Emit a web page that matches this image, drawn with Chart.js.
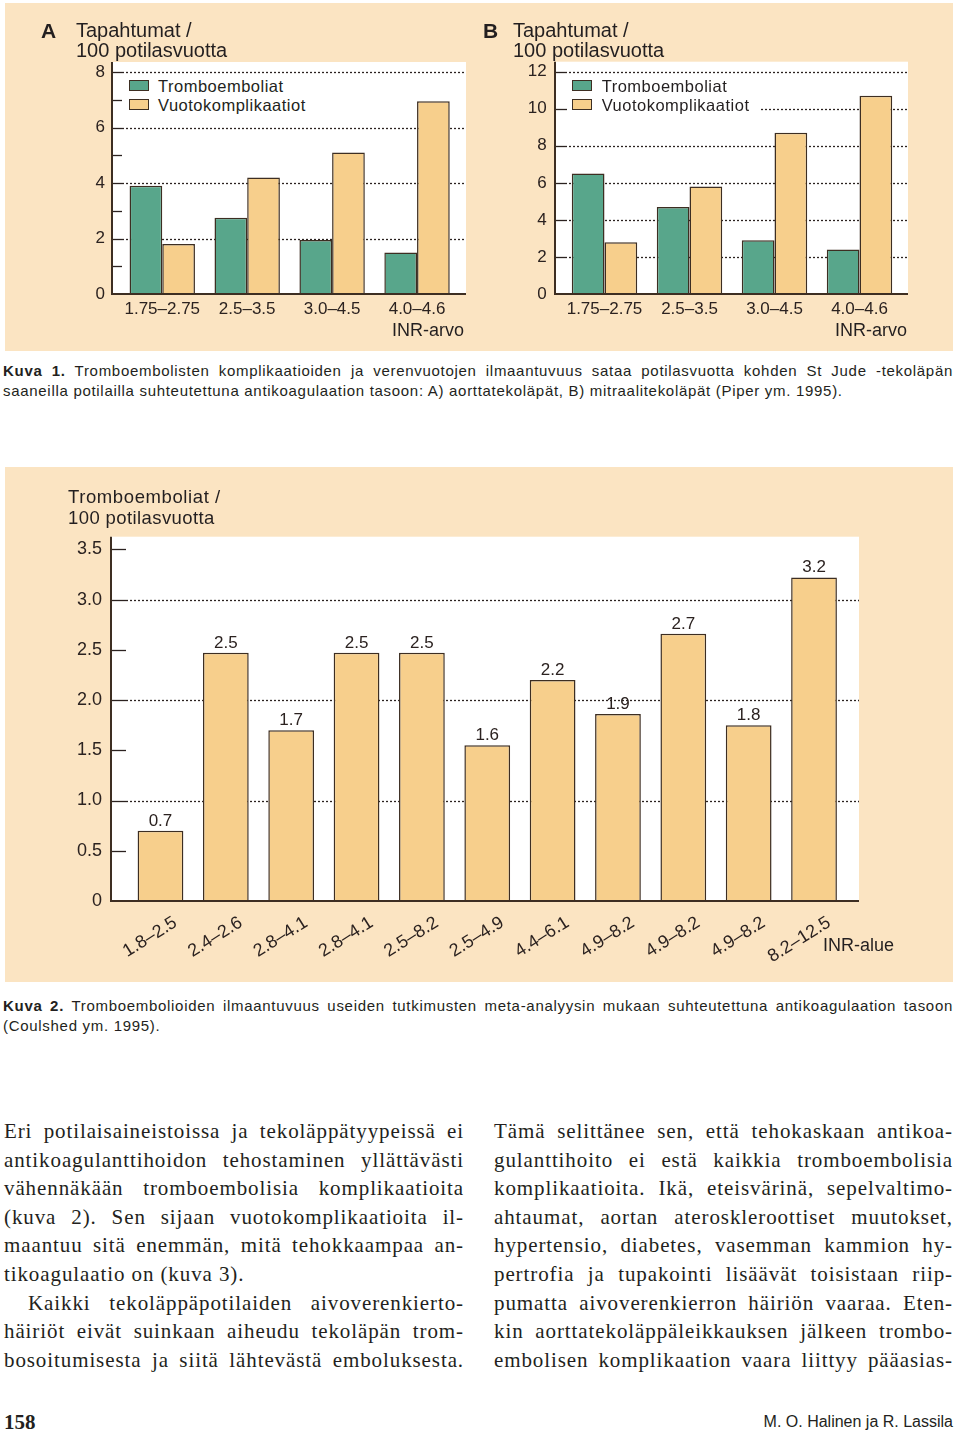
<!DOCTYPE html>
<html lang="fi">
<head>
<meta charset="utf-8">
<script src="https://cdn.jsdelivr.net/npm/chart.js@4.4.1/dist/chart.umd.min.js"></script>
<style>
  html, body { margin: 0; padding: 0; background: #fff; }
  body { width: 960px; height: 1435px; position: relative; overflow: hidden; color: #231f20;
         font-family: "Liberation Sans", Arial, sans-serif; }
  .box { position: absolute; background: #fbe4c2; }
  canvas { position: absolute; }
  .t { position: absolute; white-space: nowrap; line-height: 1; transform: translateY(-50%); }
  .legend { position: absolute; background: #fff; height: 38px; }
  .sw { position: absolute; width: 18px; height: 9px; border: 1.4px solid #3d2e22; }
  .lt { position: absolute; font-size: 16.5px; letter-spacing: 0.5px; line-height: 1; transform: translateY(-50%); white-space: nowrap; }
  .cap { position: absolute; left: 3px; width: 950px; font-size: 15px; line-height: 20px; letter-spacing: 0.7px; }
  .cap .j { text-align: justify; text-align-last: justify; }
  .col { position: absolute; top: 1117px; font-family: "Liberation Serif", "Times New Roman", serif;
         font-size: 21px; line-height: 28.6px; letter-spacing: 0.9px; }
  .col div { text-align: justify; text-align-last: justify; }
  .col div.end { text-align-last: left; }
</style>
</head>
<body>

<div class="box" style="left:5px;top:3px;width:948px;height:348px"></div>
<div class="box" style="left:5px;top:467px;width:948px;height:515px"></div>

<canvas id="chartA" width="475" height="348" style="left:5px;top:3px"></canvas>
<canvas id="chartB" width="473" height="348" style="left:480px;top:3px"></canvas>
<canvas id="chartC" width="948" height="515" style="left:5px;top:467px"></canvas>

<!-- panel A texts -->
<div class="t" style="left:41px;top:30px;font-size:21px;font-weight:bold">A</div>
<div class="t" style="left:76px;top:29.5px;font-size:20px">Tapahtumat /</div>
<div class="t" style="left:76px;top:50px;font-size:20px">100 potilasvuotta</div>
<div class="t" style="right:496px;top:330px;font-size:18px">INR-arvo</div>
<div class="legend" style="left:124px;top:76px;width:196px">
  <span class="sw" style="left:5px;top:4px;background:#58a68b"></span>
  <span class="lt" style="left:34px;top:9.5px">Tromboemboliat</span>
  <span class="sw" style="left:5px;top:23px;background:#f7cf8c"></span>
  <span class="lt" style="left:34px;top:28.5px">Vuotokomplikaatiot</span>
</div>

<!-- panel B texts -->
<div class="t" style="left:483px;top:30px;font-size:21px;font-weight:bold">B</div>
<div class="t" style="left:513px;top:29.5px;font-size:20px">Tapahtumat /</div>
<div class="t" style="left:513px;top:50px;font-size:20px">100 potilasvuotta</div>
<div class="t" style="right:53px;top:330px;font-size:18px">INR-arvo</div>
<div class="legend" style="left:567px;top:76px;width:194px">
  <span class="sw" style="left:4.7px;top:4px;background:#58a68b"></span>
  <span class="lt" style="left:34.7px;top:9.5px">Tromboemboliat</span>
  <span class="sw" style="left:4.7px;top:23px;background:#f7cf8c"></span>
  <span class="lt" style="left:34.7px;top:28.5px">Vuotokomplikaatiot</span>
</div>

<!-- Kuva 2 texts -->
<div class="t" style="left:68px;top:497px;font-size:18.5px;letter-spacing:0.6px">Tromboemboliat /</div>
<div class="t" style="left:68px;top:518px;font-size:18.5px;letter-spacing:0.4px">100 potilasvuotta</div>
<div class="t" style="left:823px;top:945px;font-size:18px">INR-alue</div>

<div class="cap" style="top:361px">
  <div class="j"><b>Kuva 1.</b> Tromboembolisten komplikaatioiden ja verenvuotojen ilmaantuvuus sataa potilasvuotta kohden St Jude -tekoläpän</div>
  <div>saaneilla potilailla suhteutettuna antikoagulaation tasoon: A) aorttatekoläpät, B) mitraalitekoläpät (Piper ym. 1995).</div>
</div>
<div class="cap" style="top:996px">
  <div class="j"><b>Kuva 2.</b> Tromboembolioiden ilmaantuvuus useiden tutkimusten meta-analyysin mukaan suhteutettuna antikoagulaation tasoon</div>
  <div>(Coulshed ym. 1995).</div>
</div>

<div class="col" style="left:4px;width:460px">
  <div>Eri potilaisaineistoissa ja tekoläppätyypeissä ei</div>
  <div>antikoagulanttihoidon tehostaminen yllättävästi</div>
  <div>vähennäkään tromboembolisia komplikaatioita</div>
  <div>(kuva 2). Sen sijaan vuotokomplikaatioita il-</div>
  <div>maantuu sitä enemmän, mitä tehokkaampaa an-</div>
  <div class="end">tikoagulaatio on (kuva 3).</div>
  <div style="text-indent:24px">Kaikki tekoläppäpotilaiden aivoverenkierto-</div>
  <div>häiriöt eivät suinkaan aiheudu tekoläpän trom-</div>
  <div>bosoitumisesta ja siitä lähtevästä emboluksesta.</div>
</div>
<div class="col" style="left:494px;width:459px">
  <div>Tämä selittänee sen, että tehokaskaan antikoa-</div>
  <div>gulanttihoito ei estä kaikkia tromboembolisia</div>
  <div>komplikaatioita. Ikä, eteisvärinä, sepelvaltimo-</div>
  <div>ahtaumat, aortan ateroskleroottiset muutokset,</div>
  <div>hypertensio, diabetes, vasemman kammion hy-</div>
  <div>pertrofia ja tupakointi lisäävät toisistaan riip-</div>
  <div>pumatta aivoverenkierron häiriön vaaraa. Eten-</div>
  <div>kin aorttatekoläppäleikkauksen jälkeen trombo-</div>
  <div>embolisen komplikaation vaara liittyy pääasias-</div>
</div>

<div class="t" style="left:4px;top:1422px;font-size:21px;font-weight:bold;font-family:'Liberation Serif',serif">158</div>
<div class="t" style="right:7px;top:1422px;font-size:16px">M. O. Halinen ja R. Lassila</div>

<script>
// Kuva 1: events per 100 patient-years by INR range
const groups = ['1.75–2.75', '2.5–3.5', '3.0–4.5', '4.0–4.6'];
const tromboA = [3.9, 2.75, 1.95, 1.5];
const vuotoA = [1.8, 4.2, 5.1, 6.95];
const tromboB = [6.5, 4.7, 2.9, 2.4];
const vuotoB = [2.8, 5.8, 8.7, 10.7];

// Kuva 2: thromboembolism per 100 patient-years (meta-analysis)
const inrRanges = ['1.8–2.5', '2.4–2.6', '2.8–4.1', '2.8–4.1', '2.5–8.2', '2.5–4.9',
                   '4.4–6.1', '4.9–8.2', '4.9–8.2', '4.9–8.2', '8.2–12.5'];
const tromboRates = [0.7, 2.47, 1.7, 2.47, 2.47, 1.55, 2.2, 1.86, 2.66, 1.75, 3.22];
const rateLabels = ['0.7', '2.5', '1.7', '2.5', '2.5', '1.6', '2.2', '1.9', '2.7', '1.8', '3.2'];

const INK = '#2b2220';
const EDGE = '#3d2e22';
const GREEN = '#58a68b';
const ORANGE = '#f7cf8c';

Chart.defaults.font.family = '"Liberation Sans", Arial, sans-serif';
Chart.defaults.color = INK;

// white plot panel, dotted grid, inward ticks and axis lines
const framePlugin = {
    id: 'frame',
    beforeDatasetsDraw(chart, args, o) {
        const { ctx, chartArea: a, scales: { y } } = chart;
        const x0 = a.left - o.left, x1 = a.right + o.right, top = a.top - o.top;
        ctx.save();
        ctx.fillStyle = '#fff';
        ctx.fillRect(x0, top, x1 - x0, a.bottom - top);
        ctx.strokeStyle = INK;
        ctx.lineWidth = 1.3;
        y.ticks.forEach(t => {
            if (t.value === y.min) return;
            const py = Math.round(y.getPixelForValue(t.value)) + 0.5;
            const r = t.value / o.majorStep;
            if (Math.abs(r - Math.round(r)) < 1e-6) {
                ctx.setLineDash([2, 2]);
                ctx.beginPath(); ctx.moveTo(x0 + o.tick, py); ctx.lineTo(x1, py); ctx.stroke();
            }
            ctx.setLineDash([]);
            ctx.beginPath(); ctx.moveTo(x0, py); ctx.lineTo(x0 + o.tick, py); ctx.stroke();
        });
        ctx.restore();
    },
    afterDatasetsDraw(chart, args, o) {
        const { ctx, chartArea: a } = chart;
        const x0 = a.left - o.left, x1 = a.right + o.right, top = a.top - o.top;
        ctx.save();
        ctx.strokeStyle = EDGE;
        ctx.lineWidth = 2;
        ctx.beginPath();
        ctx.moveTo(x0, top); ctx.lineTo(x0, a.bottom); ctx.lineTo(x1, a.bottom);
        ctx.stroke();
        ctx.restore();
    }
};

const valueLabels = {
    id: 'valueLabels',
    afterDatasetsDraw(chart, args, o) {
        if (!o.labels) return;
        const { ctx } = chart;
        ctx.save();
        ctx.font = '17px "Liberation Sans", Arial, sans-serif';
        ctx.fillStyle = INK;
        ctx.textAlign = 'center';
        ctx.textBaseline = 'alphabetic';
        chart.getDatasetMeta(0).data.forEach((bar, i) => {
            ctx.fillText(o.labels[i], bar.x, bar.y - 5);
        });
        ctx.restore();
    }
};

const barStyle = { borderColor: EDGE, borderWidth: 1.5, borderSkipped: 'start' };

function pairChart(id, trombo, vuoto, cfg) {
    return new Chart(document.getElementById(id), {
        type: 'bar',
        data: {
            labels: groups,
            datasets: [
                { label: 'Tromboemboliat', data: trombo, backgroundColor: GREEN, ...barStyle },
                { label: 'Vuotokomplikaatiot', data: vuoto, backgroundColor: ORANGE, ...barStyle }
            ]
        },
        options: {
            responsive: false,
            animation: false,
            datasets: { bar: { categoryPercentage: 0.77, barPercentage: 1 } },
            layout: { autoPadding: false, padding: { left: 0, top: cfg.top, right: cfg.right, bottom: 0 } },
            plugins: {
                legend: { display: false },
                tooltip: { enabled: false },
                frame: { left: cfg.gapL, right: cfg.gapR, top: 10, tick: 10, majorStep: 2 }
            },
            scales: {
                x: {
                    grid: { display: false, drawTicks: false },
                    border: { display: false },
                    ticks: { padding: 5, font: { size: 17 }, color: INK },
                    afterFit: s => { s.height = 57; }
                },
                y: {
                    min: 0, max: cfg.max,
                    grid: { display: false, drawTicks: false },
                    border: { display: false },
                    ticks: {
                        stepSize: cfg.step, padding: cfg.pad, font: { size: 17 }, color: INK,
                        callback: v => (v % 2 ? '' : v)
                    },
                    afterFit: s => { s.width = cfg.axisW; }
                }
            }
        },
        plugins: [framePlugin]
    });
}

pairChart('chartA', tromboA, vuotoA, { top: 69, right: 20.5, axisW: 114.8, gapL: 7.8, gapR: 6.5, max: 8, step: 1, pad: 14.8 });
pairChart('chartB', tromboB, vuotoB, { top: 68.7, right: 51, axisW: 82, gapL: 7, gapR: 6, max: 12, step: 2, pad: 15.3 });

new Chart(document.getElementById('chartC'), {
    type: 'bar',
    data: {
        labels: inrRanges,
        datasets: [{ label: 'Tromboemboliat', data: tromboRates, backgroundColor: ORANGE, ...barStyle }]
    },
    options: {
        responsive: false,
        animation: false,
        datasets: { bar: { categoryPercentage: 0.7, barPercentage: 1 } },
        layout: { autoPadding: false, padding: { left: 0, top: 82.3, right: 106.3, bottom: 0 } },
        plugins: {
            legend: { display: false },
            tooltip: { enabled: false },
            frame: { left: 16.8, right: 12.3, top: 12.6, tick: 15, majorStep: 1 },
            valueLabels: { labels: rateLabels }
        },
        scales: {
            x: {
                grid: { display: false, drawTicks: false },
                border: { display: false },
                ticks: {
                    autoSkip: false, minRotation: 32, maxRotation: 32,
                    padding: 11, labelOffset: 15, font: { size: 18 }, color: INK
                },
                afterFit: s => { s.height = 81; }
            },
            y: {
                min: 0, max: 3.5,
                grid: { display: false, drawTicks: false },
                border: { display: false },
                ticks: {
                    stepSize: 0.5, padding: 25.8, font: { size: 18 }, color: INK,
                    callback: v => (v === 0 ? '0' : v.toFixed(1))
                },
                afterFit: s => { s.width = 122.8; }
            }
        }
    },
    plugins: [framePlugin, valueLabels]
});
</script>
</body>
</html>
